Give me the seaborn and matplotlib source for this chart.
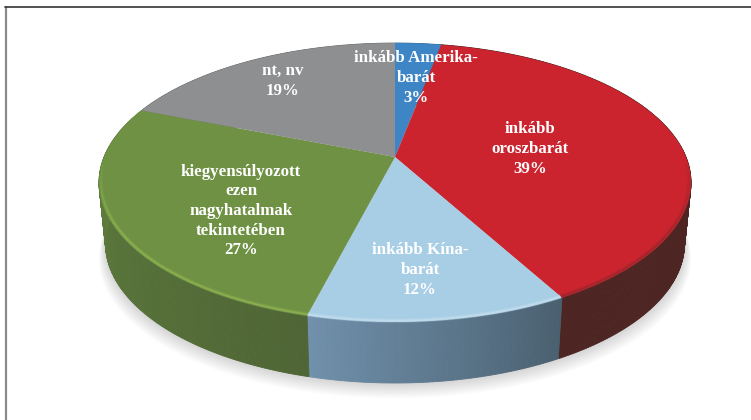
import numpy as np
import matplotlib
matplotlib.use("Agg")
import matplotlib.pyplot as plt
import matplotlib.transforms as mtransforms
import seaborn as sns

# slices, clockwise from 12 o'clock
categories = ["inkább Amerika-\nbarát", "inkább\noroszbarát", "inkább Kína-\nbarát",
              "kiegyensúlyozott\nezen\nnagyhatalmak\ntekintetében", "nt, nv"]
values = [3, 39, 12, 27, 19]

top_colors = ["#3E85C6", "#CB242F", "#A8CEE5", "#6F9144", "#8E8F91"]
# side wall colour at the start and end of each slice (clockwise)
wall_start = ["#2F6390", "#4D2523", "#4A6070", "#4F6535", "#6A6B6D"]
wall_end = ["#2F6390", "#4D2523", "#7090AB", "#628340", "#6A6B6D"]
rim_colors = ["#3E85C6", "#9C262B", "#C4DEEE", "#8DB350", "#8E8F91"]

# where the labels sit, in pixels
label_pos = [(416, 78), (530, 149), (420, 270), (241, 211), (283, 81)]

# perspective of the disk, worked out from the rim in the picture
CX, CY = 395, 157
A, B, C = 291, 134.8, 0.183
DEPTH = 61
SHRINK = 0.978


def disk_xy(u, v):
    u, v = np.asarray(u), np.asarray(v)
    w = 1 + C * v
    return CX + A * u / w, CY - B * v / w


class DiskTransform(mtransforms.Transform):
    input_dims = 2
    output_dims = 2
    is_separable = False
    has_inverse = False

    def transform_non_affine(self, values):
        x, y = disk_xy(values[:, 0], values[:, 1])
        return np.column_stack([x, y])


sns.set_theme(style="white")
fig, ax = plt.subplots(figsize=(7.51, 4.20), dpi=100)
fig.subplots_adjust(0, 0, 1, 1)

wedges, _ = ax.pie(values, colors=sns.color_palette(top_colors), startangle=90,
                   counterclock=False, radius=1, center=(0, 0))
ax.set_aspect("auto")
ax.set_xlim(0, 751)
ax.set_ylim(420, 0)
ax.set_axis_off()

disk = DiskTransform() + ax.transData
for w in wedges:
    w.set_transform(disk)
    w.set_zorder(5)
    w.set_linewidth(0)

# soft shadow under the pie
t = np.radians(np.linspace(0, 360, 361))
sx, sy = disk_xy(np.cos(t), np.sin(t))
for i in range(1, 15):
    ax.fill(CX + (sx - CX) * (SHRINK + 0.0016 * i), sy + DEPTH + i * 1.1,
            color="black", alpha=0.011, lw=0, zorder=1)

# side wall, thin strips so the shading can change along the rim
for i, w in enumerate(wedges):
    a1, a2 = w.theta1, w.theta2
    angles = np.linspace(a2, a1, max(int((a2 - a1) * 2), 2) + 1)  # clockwise
    c1 = np.array(matplotlib.colors.to_rgb(wall_start[i]))
    c2 = np.array(matplotlib.colors.to_rgb(wall_end[i]))
    for k in range(len(angles) - 1):
        tt = np.radians(angles[k:k + 2])
        x, y = disk_xy(np.cos(tt), np.sin(tt))
        xb, yb = CX + (x - CX) * SHRINK, y + DEPTH
        f = k / (len(angles) - 2) if len(angles) > 2 else 0
        col = c1 + (c2 - c1) * f
        ax.fill([x[0], x[1], xb[1], xb[0]], [y[0], y[1], yb[1], yb[0]],
                color=col, lw=0.6, zorder=2)

# lighter bevel on the front rim, fades out towards the sides
for i, w in enumerate(wedges):
    tt = np.radians(np.linspace(w.theta1, w.theta2, 90))
    for k in range(len(tt) - 1):
        s = -np.sin(tt[k])
        if s <= 0.05:
            continue
        x, y = disk_xy(0.993 * np.cos(tt[k:k + 2]), 0.993 * np.sin(tt[k:k + 2]))
        fade = min(s / 0.5, 1)
        ax.plot(x, y, color=rim_colors[i], lw=3, alpha=0.3 * fade, zorder=6, solid_capstyle="butt")
        ax.plot(x, y, color=rim_colors[i], lw=1.3, alpha=0.8 * fade, zorder=6, solid_capstyle="butt")

for text, val, (x, y) in zip(categories, values, label_pos):
    ax.text(x, y, f"{text}\n{val}%", ha="center", va="center", color="white",
            family="Liberation Serif", fontweight="bold", fontsize=12.2,
            linespacing=1.31, zorder=8)

# frame of the figure, cut off at the bottom and the right
ax.plot([5.5, 5.5], [420, 7], color="#8A8A8A", lw=1.6, zorder=9)
ax.plot([5, 751], [7, 7], color="#333333", lw=1.2, zorder=9)

fig.savefig("out.png", dpi=100)
